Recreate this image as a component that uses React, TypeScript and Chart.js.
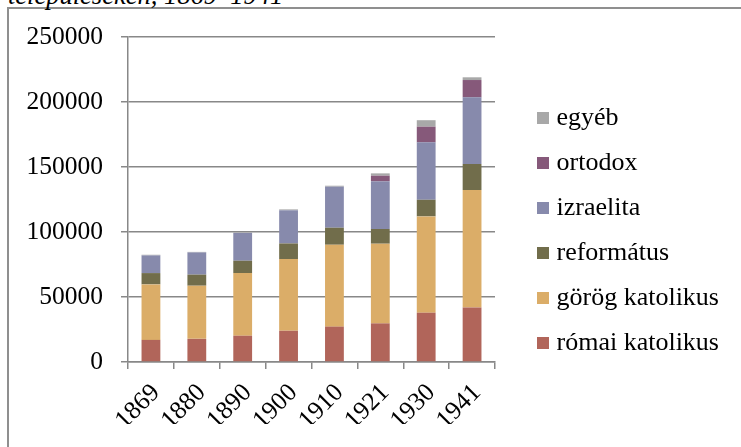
import React, { useEffect, useRef } from "react";
import { Chart, registerables } from "chart.js";
Chart.register(...registerables);

const years = ["1869", "1880", "1890", "1900", "1910", "1921", "1930", "1941"];
const romaiKatolikus = [17000, 17800, 20200, 24000, 27200, 29700, 37900, 42000];
const gorogKatolikus = [42700, 40900, 48200, 55200, 63000, 61300, 74100, 90300];
const reformatus = [8700, 8500, 9500, 12000, 13100, 11300, 12800, 20000];
const izraelita = [13600, 17100, 21400, 25500, 31600, 36700, 44200, 51300];
const ortodox = [0, 0, 0, 0, 0, 4300, 12000, 13300];
const egyeb = [500, 400, 400, 700, 700, 1800, 5000, 2100];
const yMax = 250000;
const yStep = 50000;
const titleText = "településeken, 1869–1941";

const FONT = "'Liberation Serif', 'Times New Roman', serif";

export default function App() {
  const ref = useRef<HTMLCanvasElement | null>(null);

  useEffect(() => {
    if (!ref.current) return;
    const series = [
      { label: "római katolikus", data: romaiKatolikus, color: "#B1655A" },
      { label: "görög katolikus", data: gorogKatolikus, color: "#DBAD68" },
      { label: "református", data: reformatus, color: "#716D4B" },
      { label: "izraelita", data: izraelita, color: "#878AAC" },
      { label: "ortodox", data: ortodox, color: "#86597A" },
      { label: "egyéb", data: egyeb, color: "#A8A8A8" },
    ];
    const chart = new Chart(ref.current, {
      type: "bar",
      data: {
        labels: years,
        datasets: series.map((s) => ({
          label: s.label,
          data: s.data,
          backgroundColor: s.color,
          borderWidth: 0,
          barPercentage: 0.41,
          categoryPercentage: 1,
        })),
      },
      options: {
        responsive: false,
        animation: false,
        layout: { padding: { left: 0, top: 37, right: 22.5, bottom: 23 } },
        plugins: {
          tooltip: { enabled: false },
          title: { display: false },
          legend: {
            display: true,
            position: "right",
            reverse: true,
            maxWidth: 195,
            labels: {
              usePointStyle: true,
              pointStyle: "rect",
              boxWidth: 1,
              boxHeight: 12,
              padding: 19,
              color: "#000",
              font: { family: FONT, size: 26 },
            },
          },
        },
        scales: {
          x: {
            stacked: true,
            grid: {
              display: true,
              drawOnChartArea: false,
              drawTicks: true,
              tickLength: 7,
              color: "#888",
              lineWidth: 1.5,
            },
            border: { display: true, color: "#888", width: 1.5 },
            ticks: {
              color: "#000",
              font: { family: FONT, size: 25.5 },
              minRotation: 45,
              maxRotation: 45,
              padding: 9,
              labelOffset: 5,
              autoSkip: false,
            },
            afterFit: (s: any) => {
              s.height = 62;
            },
          },
          y: {
            stacked: true,
            min: 0,
            max: yMax,
            grid: {
              color: "#888",
              lineWidth: 1.5,
              tickLength: 7,
            },
            border: { display: true, color: "#888", width: 1.5 },
            ticks: {
              stepSize: yStep,
              color: "#000",
              font: { family: FONT, size: 25.5 },
              padding: 18,
              callback: (v: any) => String(v),
            },
            afterFit: (s: any) => {
              s.width = 128;
            },
          },
          r: {
            type: "linear",
            position: "right",
            display: true,
            grid: { display: false },
            border: { display: false },
            ticks: { display: false },
            afterFit: (s: any) => {
              s.width = 28.5;
            },
          },
        },
      },
    });
    return () => chart.destroy();
  }, []);

  return (
    <div
      style={{
        position: "absolute",
        left: 0,
        top: 0,
        width: 741,
        height: 447,
        overflow: "hidden",
        background: "#fff",
      }}
    >
      <div
        style={{
          position: "absolute",
          left: 7,
          top: 7,
          width: 800,
          height: 500,
          border: "2px solid #8f8f8f",
        }}
      />
      <div
        style={{
          position: "absolute",
          left: 8,
          top: -18.3,
          fontFamily: FONT,
          fontStyle: "italic",
          fontSize: 26.5,
          lineHeight: "26px",
          whiteSpace: "nowrap",
          color: "#000",
        }}
      >
        {titleText}
      </div>
      <canvas
        ref={ref}
        width={741}
        height={447}
        style={{ position: "absolute", left: 0, top: 0, width: 741, height: 447 }}
      />
    </div>
  );
}
